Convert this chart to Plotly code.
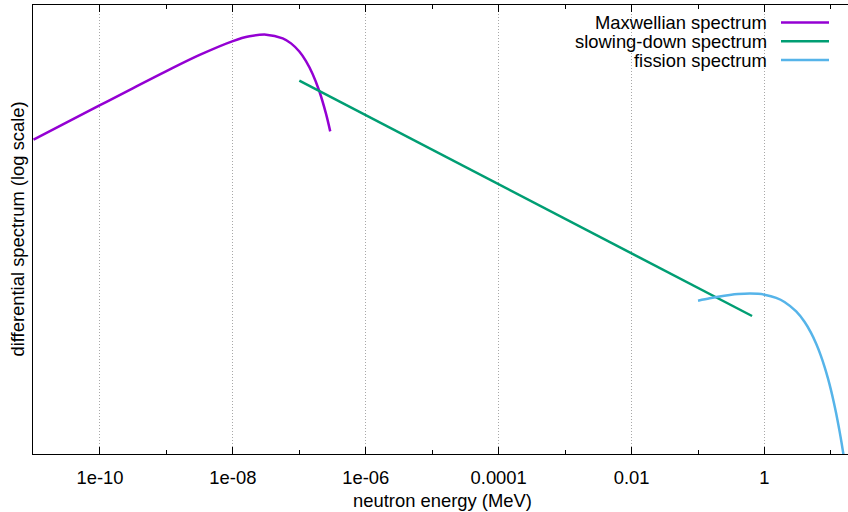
import plotly.graph_objects as go

# ---- data (arbitrary units on y) ----
maxwell_E = [1e-11, 3.162e-11, 1e-10, 3.162e-10, 1e-9, 3.162e-9, 1e-8, 1.778e-8,
             3.162e-8, 5.623e-8, 7.499e-8, 1e-7, 1.259e-7, 1.585e-7, 1.995e-7,
             2.512e-7, 2.917e-7]
maxwell_phi = [1.259, 3.977, 12.55, 39.38, 121.8, 358.1, 901.6, 1237,
               1387, 1086, 774.5, 448.7, 238.2, 101.2, 32.43,
               7.295, 2.193]

slowing_E = [1e-7, 1e-4, 0.65]
slowing_phi = [64.3, 6.43e-2, 9.9e-6]

fission_E = [0.1, 0.15, 0.2, 0.3, 0.4, 0.6, 0.8, 1.0, 1.5, 2, 3, 4, 5, 6, 7, 8,
             9, 10, 11, 12, 13, 14, 15, 16, 17]
fission_phi = [2.747e-5, 3.227e-5, 3.575e-5, 4.028e-5, 4.279e-5, 4.436e-5,
               4.336e-5, 4.104e-5, 3.313e-5, 2.522e-5, 1.342e-5, 6.738e-6,
               3.273e-6, 1.558e-6, 7.315e-7, 3.399e-7, 1.567e-7, 7.177e-8,
               3.270e-8, 1.485e-8, 6.716e-9, 3.028e-9, 1.363e-9, 6.113e-10,
               2.741e-10]

series_names = ["Maxwellian spectrum", "slowing-down spectrum", "fission spectrum"]
series_colors = ["#9400d3", "#009e73", "#56b4e9"]

tick_vals = [1e-10, 1e-8, 1e-6, 1e-4, 1e-2, 1]
tick_text = ["1e-10", "1e-08", "1e-06", "0.0001", "0.01", "1"]
minor_vals = [1e-11, 1e-9, 1e-7, 1e-5, 1e-3, 1e-1, 10]

FONT = "Liberation Sans, Arial, Helvetica, sans-serif"
FS = 18.4

fig = go.Figure()
for xs, ys, name, col, shape in [
    (maxwell_E, maxwell_phi, series_names[0], series_colors[0], "spline"),
    (slowing_E, slowing_phi, series_names[1], series_colors[1], "linear"),
    (fission_E, fission_phi, series_names[2], series_colors[2], "spline"),
]:
    fig.add_trace(go.Scatter(x=xs, y=ys, mode="lines", name=name,
                             line=dict(color=col, width=2.5, shape=shape),
                             showlegend=False))

W, H = 848, 512
ml, mr, mt, mb = 33, 0, 5, 58
pw, ph = W - ml - mr, H - mt - mb
decade_px = 66.45
x0 = -11.008
x1 = x0 + pw / decade_px

def px2paper_x(px):
    return (px - ml) / pw

def py2paper_y(py):
    return (H - mb - py) / ph

shapes = [dict(type="rect", xref="paper", yref="paper",
               x0=px2paper_x(575), x1=1.0, y0=py2paper_y(68), y1=1.0,
               fillcolor="white", line=dict(width=0), layer="between")]
annotations = []
legend_y = [22.5, 41.2, 60]
for name, col, ly in zip(series_names, series_colors, legend_y):
    annotations.append(dict(text=name, xref="paper", yref="paper",
                            x=px2paper_x(769), y=py2paper_y(ly),
                            xanchor="right", yanchor="middle", showarrow=False,
                            font=dict(family=FONT, size=FS, color="black")))
    shapes.append(dict(type="line", xref="paper", yref="paper",
                       x0=px2paper_x(781), x1=px2paper_x(829),
                       y0=py2paper_y(ly), y1=py2paper_y(ly),
                       line=dict(color=col, width=2.5), layer="above"))

annotations.append(dict(text="neutron energy (MeV)", xref="paper", yref="paper",
                        x=px2paper_x(442), y=py2paper_y(500), xanchor="center", yanchor="middle",
                        showarrow=False, font=dict(family=FONT, size=FS, color="black")))
annotations.append(dict(text="differential spectrum (log scale)", xref="paper", yref="paper",
                        x=px2paper_x(17), y=py2paper_y(229.5), xanchor="center",
                        yanchor="middle", textangle=-90, showarrow=False,
                        font=dict(family=FONT, size=FS, color="black")))

fig.update_layout(
    width=W, height=H,
    margin=dict(l=ml, r=mr, t=mt, b=mb, pad=0),
    paper_bgcolor="white", plot_bgcolor="white",
    font=dict(family=FONT, size=FS, color="black"),
    shapes=shapes, annotations=annotations,
    xaxis=dict(type="log", range=[x0, x1], showline=True, linecolor="black",
               linewidth=1, mirror="ticks", ticks="inside", ticklen=7,
               tickcolor="black", tickwidth=1, ticklabelstandoff=7,
               tickmode="array", tickvals=tick_vals, ticktext=tick_text,
               showgrid=True, gridcolor="#a8a8a8", gridwidth=1, griddash="1px,2px",
               minor=dict(tickmode="array", tickvals=minor_vals, ticks="inside",
                          ticklen=4, tickcolor="black", showgrid=False),
               zeroline=False, automargin=False,
               tickfont=dict(family=FONT, size=FS, color="black")),
    yaxis=dict(type="log", range=[-9, 4], showline=True, linecolor="black",
               linewidth=1, mirror=False, ticks="", showticklabels=False,
               showgrid=False, zeroline=False, automargin=False),
)

fig.write_html("out.html")
